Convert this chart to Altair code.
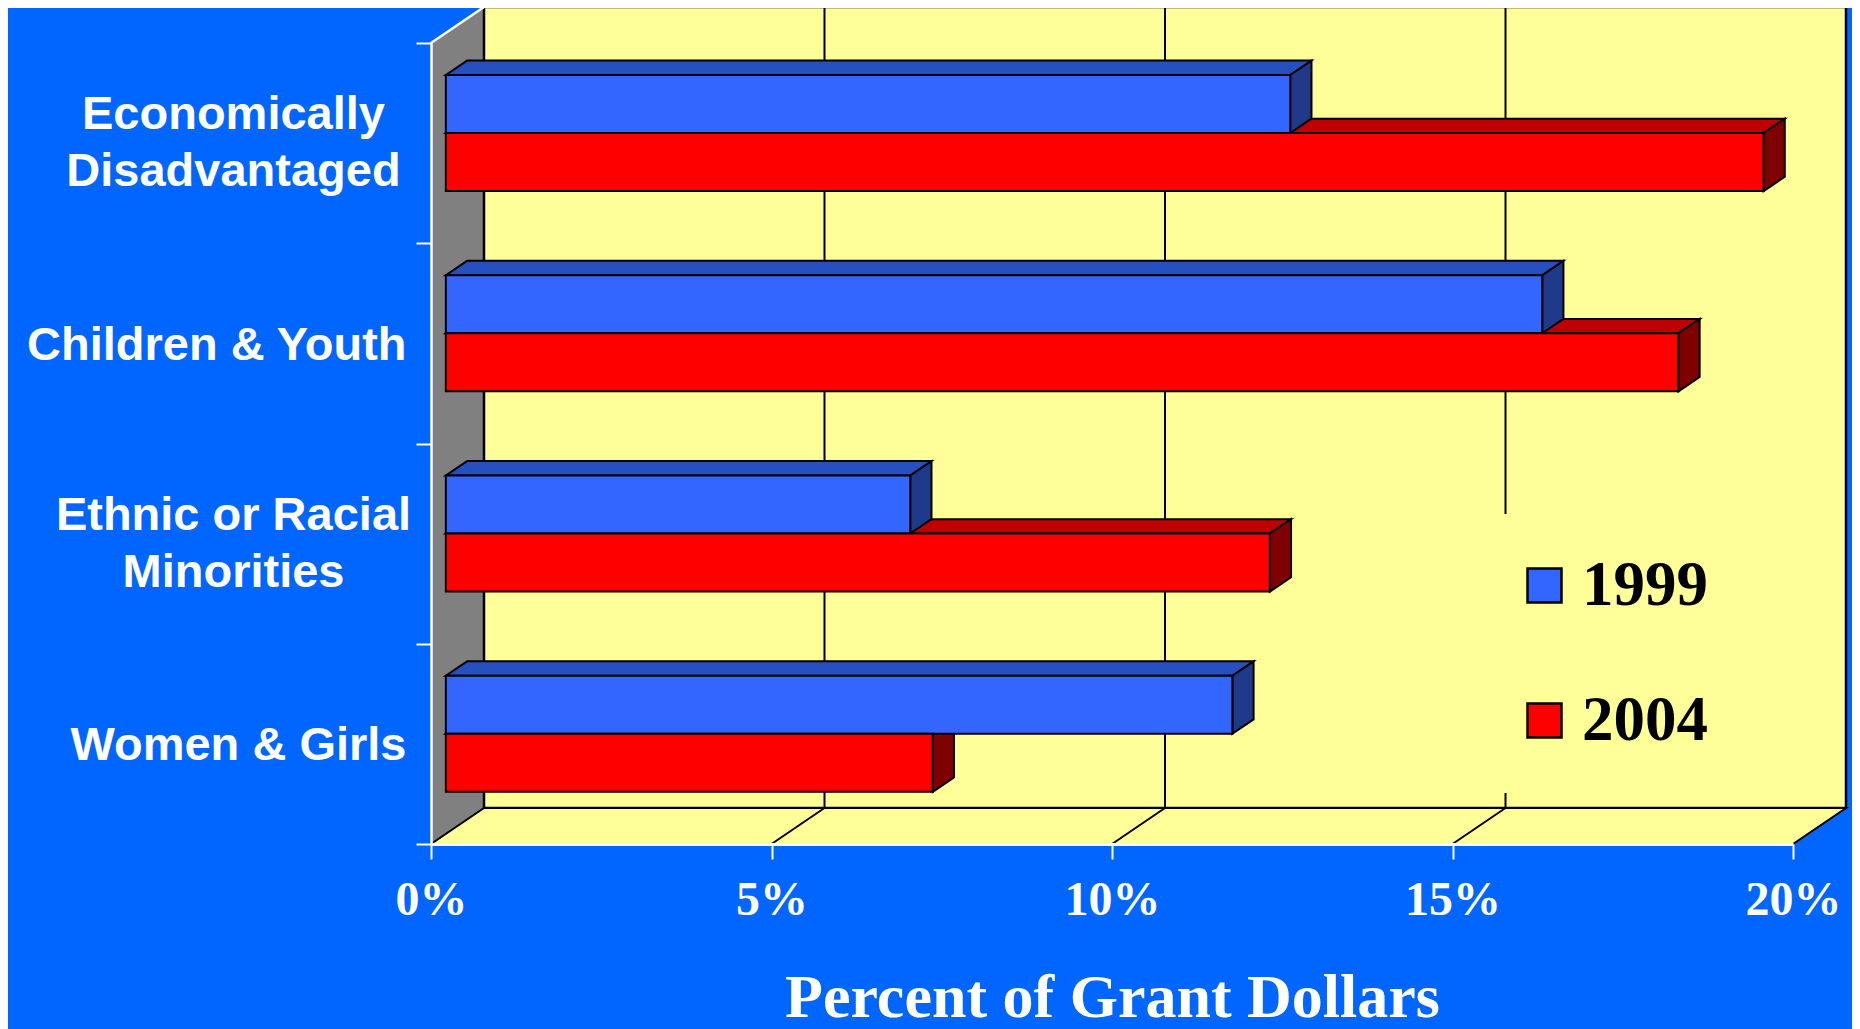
import json
import altair as alt
import pandas as pd

# ---------------- data ----------------
categories = ["Economically Disadvantaged", "Children & Youth",
              "Ethnic or Racial Minorities", "Women & Girls"]
label_lines = [["Economically", "Disadvantaged"], ["Children & Youth"],
               ["Ethnic or Racial", "Minorities"], ["Women & Girls"]]
years = ["1999", "2004"]
values_1999 = [12.4, 16.1, 6.82, 11.55]
values_2004 = [19.35, 18.1, 12.1, 7.15]
x_ticks = [0, 5, 10, 15, 20]
x_title = "Percent of Grant Dollars"

# ---------------- geometry (pixels -> data units) ----------------
W, H = 1362, 801
X_MAX = 20
N = len(categories)
px_x = W / X_MAX
px_y = H / N
DX = 53 / px_x          # wall depth in x units
DY = 36 / px_y          # wall depth in y units
F0, F1 = 0.28, 0.68     # bar front / back depth fractions
BAR_START = 0.21        # bar group offset inside a band (rows)
BAR_H = 0.29            # bar thickness (rows)

C_FRONT = {"1999": "#3366FF", "2004": "#FF0000"}
C_TOP = {"1999": "#2650BF", "2004": "#BF0000"}
C_SIDE = {"1999": "#1F3A8A", "2004": "#800000"}
YELLOW = "#FFFF99"

front_rows, top_rows, side_rows = [], [], []
for i, cat in enumerate(categories):
    band_top = N - i
    for j, (year, vals) in enumerate(zip(years, [values_1999, values_2004])):
        v = vals[i]
        y_hi = band_top - BAR_START - j * BAR_H
        y_lo = y_hi - BAR_H
        key = f"{cat}|{year}"
        front_rows.append(dict(key=key, cat=cat, year=year, value=v,
                               x0=F0 * DX, x1=v + F0 * DX,
                               ylo=y_lo + F0 * DY, yhi=y_hi + F0 * DY))
        for f in (F0, F1):
            top_rows.append(dict(key=key, year=year, y=y_hi + f * DY,
                                 xa=f * DX, xb=v + f * DX))
            side_rows.append(dict(key=key, year=year, x=v + f * DX,
                                  ya=y_lo + f * DY, yb=y_hi + f * DY))

front_df = pd.DataFrame(front_rows)
top_df = pd.DataFrame(top_rows)
side_df = pd.DataFrame(side_rows)

side_wall_df = pd.DataFrame(dict(x=[0, DX], ya=[0, DY], yb=[N, N + DY]))
floor_df = pd.DataFrame(dict(y=[0, DY], xa=[0, DX], xb=[X_MAX, X_MAX + DX]))
back_df = pd.DataFrame(dict(x=[DX], x2=[X_MAX + DX], y=[DY], y2=[N + DY]))
inner_ticks = [t for t in x_ticks if 0 < t < X_MAX]
grid_df = pd.DataFrame(dict(x=[t + DX for t in inner_ticks],
                            y=[DY] * len(inner_ticks),
                            y2=[N + DY] * len(inner_ticks)))
floor_lines_df = pd.DataFrame(dict(x=inner_ticks, x2=[t + DX for t in inner_ticks],
                                   y=[0] * len(inner_ticks), y2=[DY] * len(inner_ticks)))
edge_df = pd.DataFrame(dict(x=[0], x2=[DX], y=[N], y2=[N + DY]))

# ---------------- scales / axes ----------------
xs = alt.Scale(domain=[0, X_MAX], nice=False, zero=False)
ys = alt.Scale(domain=[0, N], nice=False, zero=False)

parts = []
for i, lines in enumerate(label_lines):
    parts.append(f"datum.value == {N - 1 - i} ? {json.dumps(lines)} : ")
y_label_expr = "".join(parts) + "''"
multi_vals = [N - 1 - i for i, l in enumerate(label_lines) if len(l) > 1]
multi_test = " || ".join(f"datum.value == {v}" for v in multi_vals)
LINE_H = 57

x_axis = alt.Axis(values=x_ticks, labelExpr="datum.value + '%'", grid=False,
                  domainColor="white", domainWidth=3, tickColor="white",
                  tickWidth=2, tickSize=15, labelColor="white",
                  labelFont="Liberation Serif", labelFontWeight="bold",
                  labelFontSize=48, labelPadding=17, labelFlush=False,
                  labelOverlap=False, title=x_title, titleColor="white",
                  titleFont="Liberation Serif", titleFontWeight="bold",
                  titleFontSize=62, titleX=W / 2, titleY=172,
                  titleAlign="center", titleBaseline="alphabetic", zindex=1)
y_axis = alt.Axis(values=list(range(N + 1)), labelExpr=y_label_expr, grid=False,
                  domainColor="white", domainWidth=2.5, tickColor="white",
                  tickWidth=2, tickSize=15, labelColor="white",
                  labelFont="Liberation Sans", labelFontWeight="bold",
                  labelFontSize=47, labelLineHeight=LINE_H,
                  labelAlign={"condition": {"test": multi_test, "value": "center"},
                              "value": "right"},
                  labelPadding={"condition": {"test": multi_test, "value": 183},
                                "value": 10},
                  labelOffset={"condition": {"test": multi_test,
                                             "value": -px_y / 2 - LINE_H / 2},
                               "value": -px_y / 2 + 2},
                  labelLimit=800, labelOverlap=False,
                  labelFlush=False, title=None, zindex=1)


def X(f):
    return alt.X(f, type="quantitative", scale=xs, axis=x_axis)


def Y(f):
    return alt.Y(f, type="quantitative", scale=ys, axis=y_axis, stack=None)


def cond(colors):
    return alt.condition(alt.datum.year == years[0],
                         alt.value(colors[years[0]]), alt.value(colors[years[1]]))


side_wall = alt.Chart(side_wall_df).mark_area(fill="#808080", orient="vertical").encode(
    x=X("x"), y=Y("ya"), y2="yb")
back_wall = alt.Chart(back_df).mark_rect(fill=YELLOW, stroke="black", strokeWidth=2.5).encode(
    x=X("x"), x2="x2", y=Y("y"), y2="y2")
grid = alt.Chart(grid_df).mark_rule(color="black", strokeWidth=2).encode(
    x=X("x"), y=Y("y"), y2="y2")
floor = alt.Chart(floor_df).mark_area(fill=YELLOW, stroke="black", strokeWidth=2,
                                      orient="horizontal").encode(
    y=Y("y"), x=X("xa"), x2="xb")
floor_lines = alt.Chart(floor_lines_df).mark_rule(color="black", strokeWidth=2).encode(
    x=X("x"), x2="x2", y=Y("y"), y2="y2")
edge = alt.Chart(edge_df).mark_rule(color="white", strokeWidth=2.5).encode(
    x=X("x"), x2="x2", y=Y("y"), y2="y2")

tops = alt.Chart(top_df).mark_area(stroke="black", strokeWidth=2, orient="horizontal").encode(
    y=Y("y"), x=X("xa"), x2="xb", detail="key:N", fill=cond(C_TOP))
sides = alt.Chart(side_df).mark_area(stroke="black", strokeWidth=2, orient="vertical").encode(
    x=X("x"), y=Y("ya"), y2="yb", detail="key:N", fill=cond(C_SIDE))
fronts = alt.Chart(front_df).mark_rect(stroke="black", strokeWidth=2).encode(
    x=X("x0"), x2="x1", y=Y("ylo"), y2="yhi",
    color=alt.Color("year:N", scale=alt.Scale(domain=years,
                                              range=[C_FRONT[y] for y in years]),
                    legend=alt.Legend(title=None, orient="none", legendX=1042,
                                      legendY=471, direction="vertical",
                                      symbolType="square", symbolSize=34 * 34,
                                      symbolStrokeColor="black",
                                      symbolStrokeWidth=2.5, symbolOpacity=1,
                                      labelFont="Liberation Serif",
                                      labelFontWeight="bold", labelFontSize=63,
                                      labelColor="black", labelOffset=6,
                                      rowPadding=71, padding=40,
                                      fillColor=YELLOW, labelLimit=400)))

chart = alt.layer(side_wall, back_wall, grid, floor, floor_lines, edge,
                  tops, sides, fronts).properties(
    width=W, height=H,
    padding={"left": 423, "top": 35, "right": 59, "bottom": 185},
    autosize=alt.AutoSizeParams(type="none"),
).configure(background="#0066FF").configure_view(stroke=None)

chart.save("out.html", embed_options={"renderer": "svg", "actions": False})
